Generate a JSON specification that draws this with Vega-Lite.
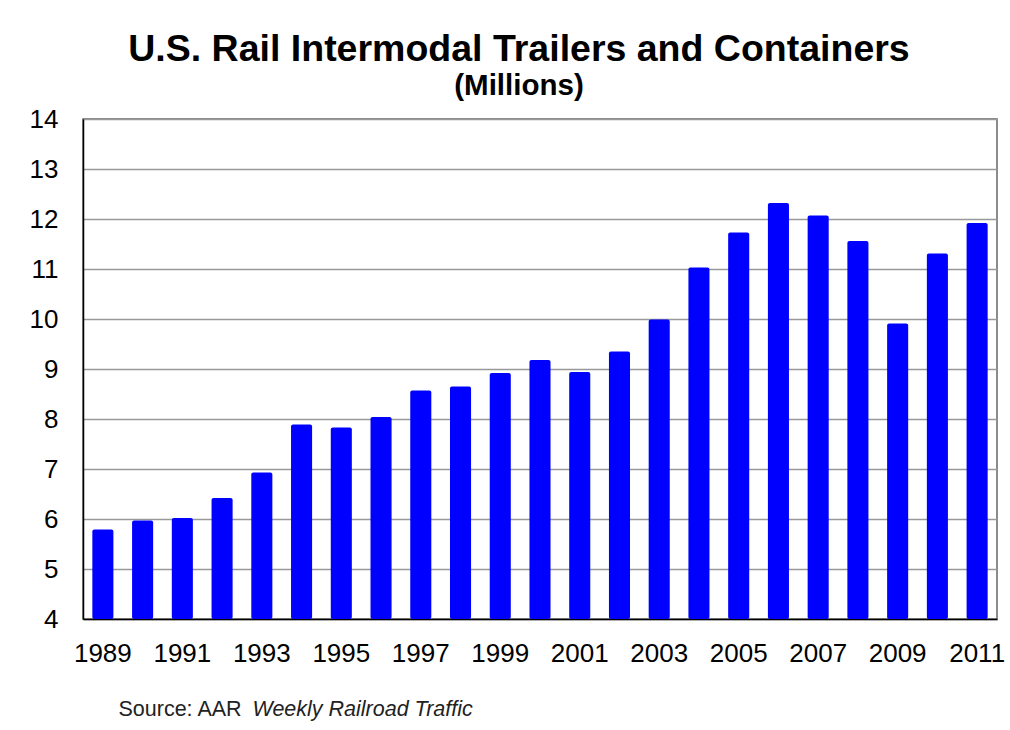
{
  "$schema": "https://vega.github.io/schema/vega-lite/v6.json",
  "width": 914,
  "height": 500,
  "autosize": {"type": "pad"},
  "padding": {"left": 29, "top": 31, "right": 4, "bottom": 9},
  "background": "white",
  "config": {
    "view": {"stroke": "#666666", "strokeWidth": 1.5},
    "font": "Liberation Sans"
  },
  "title": {
    "text": "U.S. Rail Intermodal Trailers and Containers",
    "subtitle": "(Millions)",
    "font": "Liberation Sans",
    "fontSize": 37.5,
    "fontWeight": "bold",
    "color": "black",
    "subtitleFont": "Liberation Sans",
    "subtitleFontSize": 29.5,
    "subtitleFontWeight": "bold",
    "subtitleColor": "black",
    "subtitlePadding": 3,
    "anchor": "middle",
    "frame": "group",
    "dx": -21,
    "offset": 6
  },
  "data": {
    "values": [
      {"year": 1989, "value": 5.79},
      {"year": 1990, "value": 5.97},
      {"year": 1991, "value": 6.02},
      {"year": 1992, "value": 6.42},
      {"year": 1993, "value": 6.93},
      {"year": 1994, "value": 7.89},
      {"year": 1995, "value": 7.83},
      {"year": 1996, "value": 8.04},
      {"year": 1997, "value": 8.57},
      {"year": 1998, "value": 8.65},
      {"year": 1999, "value": 8.92},
      {"year": 2000, "value": 9.18},
      {"year": 2001, "value": 8.94},
      {"year": 2002, "value": 9.35},
      {"year": 2003, "value": 9.99},
      {"year": 2004, "value": 11.03},
      {"year": 2005, "value": 11.73},
      {"year": 2006, "value": 12.32},
      {"year": 2007, "value": 12.07},
      {"year": 2008, "value": 11.56},
      {"year": 2009, "value": 9.91},
      {"year": 2010, "value": 11.31},
      {"year": 2011, "value": 11.92}
    ]
  },
  "layer": [
    {
      "mark": {"type": "bar", "color": "#0000FF", "cornerRadius": 2, "clip": true},
      "encoding": {
        "x": {
          "field": "year",
          "type": "ordinal",
          "scale": {"paddingInner": 0.47, "paddingOuter": 0.235},
          "axis": {
            "labelAngle": 0,
            "labelExpr": "datum.value % 2 == 1 ? datum.label : ''",
            "labelOverlap": false,
            "labelFont": "Liberation Sans",
            "labelFontSize": 26,
            "labelColor": "black",
            "labelPadding": 21,
            "ticks": false,
            "domainColor": "black",
            "domainWidth": 1.5,
            "grid": false,
            "title": "Source: AAR",
            "titleFont": "Liberation Sans",
            "titleFontSize": 21.5,
            "titleFontWeight": "normal",
            "titleColor": "#222222",
            "titleAlign": "left",
            "titleBaseline": "alphabetic",
            "titleX": 35,
            "titleY": 96
          }
        },
        "y": {
          "field": "value",
          "type": "quantitative",
          "scale": {"domain": [4, 14], "zero": false, "nice": false},
          "axis": {
            "values": [4, 5, 6, 7, 8, 9, 10, 11, 12, 13, 14],
            "title": null,
            "labelFont": "Liberation Sans",
            "labelFontSize": 26,
            "labelColor": "black",
            "labelPadding": 25,
            "ticks": false,
            "domainColor": "black",
            "domainWidth": 1.5,
            "gridColor": "#999999",
            "gridWidth": 1.5
          }
        },
        "y2": {"datum": 4}
      }
    },
    {
      "mark": {"type": "bar", "opacity": 0, "clip": true},
      "encoding": {
        "x": {
          "field": "year",
          "type": "ordinal",
          "axis": {
            "orient": "bottom",
            "labels": false,
            "ticks": false,
            "domain": false,
            "grid": false,
            "title": "Weekly Railroad Traffic",
            "titleFont": "Liberation Sans",
            "titleFontSize": 21.5,
            "titleFontWeight": "normal",
            "titleFontStyle": "italic",
            "titleColor": "#222222",
            "titleAlign": "left",
            "titleBaseline": "alphabetic",
            "titleX": 169,
            "titleY": 96
          }
        },
        "y": {"field": "value", "type": "quantitative"},
        "y2": {"datum": 4}
      }
    }
  ],
  "resolve": {"axis": {"x": "independent"}}
}
